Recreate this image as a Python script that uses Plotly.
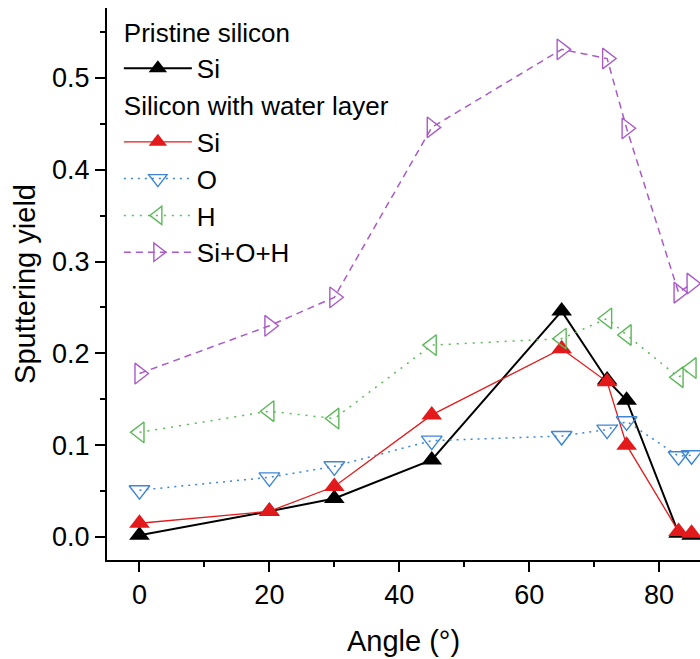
import plotly.graph_objects as go

angles = [0, 20, 30, 45, 65, 72, 75, 83, 85]
pristine_si = [0.002, 0.028, 0.042, 0.084, 0.246, 0.171, 0.149, 0.004, 0.002]
water_si = [0.015, 0.028, 0.055, 0.133, 0.205, 0.169, 0.100, 0.006, 0.004]
water_o = [0.051, 0.065, 0.077, 0.105, 0.110, 0.117, 0.126, 0.088, 0.089]
water_h = [0.114, 0.137, 0.129, 0.209, 0.216, 0.238, 0.220, 0.174, 0.184]
water_total = [0.178, 0.230, 0.261, 0.446, 0.531, 0.521, 0.445, 0.266, 0.276]

FONT = "Liberation Sans, Arial, sans-serif"
RED = "#E31A1C"
BLUE = "#3F86D2"
GREEN = "#5DB85A"
PURPLE = "#A95BC7"

fig = go.Figure()

fig.add_trace(go.Scatter(
    x=angles, y=pristine_si, name="Si", mode="lines+markers",
    legendgroup="pristine", legendgrouptitle_text="Pristine silicon",
    line=dict(color="black", width=2),
    marker=dict(symbol="triangle-up", size=18, color="black"),
))
fig.add_trace(go.Scatter(
    x=angles, y=water_si, name="Si", mode="lines+markers",
    legendgroup="water", legendgrouptitle_text="Silicon with water layer",
    line=dict(color=RED, width=1.3),
    marker=dict(symbol="triangle-up", size=18, color=RED),
))
fig.add_trace(go.Scatter(
    x=angles, y=water_o, name="O", mode="lines+markers",
    legendgroup="water",
    line=dict(color=BLUE, width=1.5, dash="2px,5px"),
    marker=dict(symbol="triangle-down-open", size=18, color=BLUE, line=dict(width=1.4)),
))
fig.add_trace(go.Scatter(
    x=angles, y=water_h, name="H", mode="lines+markers",
    legendgroup="water",
    line=dict(color=GREEN, width=1.5, dash="2px,6px"),
    marker=dict(symbol="triangle-left-open", size=18, color=GREEN, line=dict(width=1.4)),
))
fig.add_trace(go.Scatter(
    x=angles, y=water_total, name="Si+O+H", mode="lines+markers",
    legendgroup="water",
    line=dict(color=PURPLE, width=1.5, dash="7px,5px"),
    marker=dict(symbol="triangle-right-open", size=18, color=PURPLE, line=dict(width=1.4)),
))

axis_common = dict(
    showline=True, linecolor="black", linewidth=2,
    showgrid=False, zeroline=False,
    ticks="outside", ticklen=10, tickwidth=1.5, tickcolor="black",
    tickfont=dict(family=FONT, size=27, color="black"),
    title_font=dict(family=FONT, size=29, color="black"),
)

fig.update_xaxes(
    range=[-5, 86.3], dtick=20, tick0=0,
    minor=dict(dtick=10, ticks="outside", ticklen=5, tickwidth=1.5, tickcolor="black"),
    title_text="Angle (°)", title_standoff=21,
    **axis_common,
)
fig.update_yaxes(
    range=[-0.025, 0.576], dtick=0.1, tick0=0, tickformat=".1f",
    minor=dict(dtick=0.05, ticks="outside", ticklen=5, tickwidth=1.5, tickcolor="black"),
    title_text="Sputtering yield", title_standoff=8,
    **axis_common,
)

fig.update_layout(
    width=700, height=659,
    margin=dict(l=107, r=0, t=8, b=99),
    paper_bgcolor="white", plot_bgcolor="white",
    font=dict(family=FONT, color="black"),
    legend=dict(
        x=0.02, y=1.0, xanchor="left", yanchor="top",
        bgcolor="rgba(0,0,0,0)", tracegroupgap=0,
        font=dict(family=FONT, size=26, color="black"),
        grouptitlefont=dict(family=FONT, size=26, color="black"),
        itemwidth=68,
    ),
)

fig.write_html("out.html")
